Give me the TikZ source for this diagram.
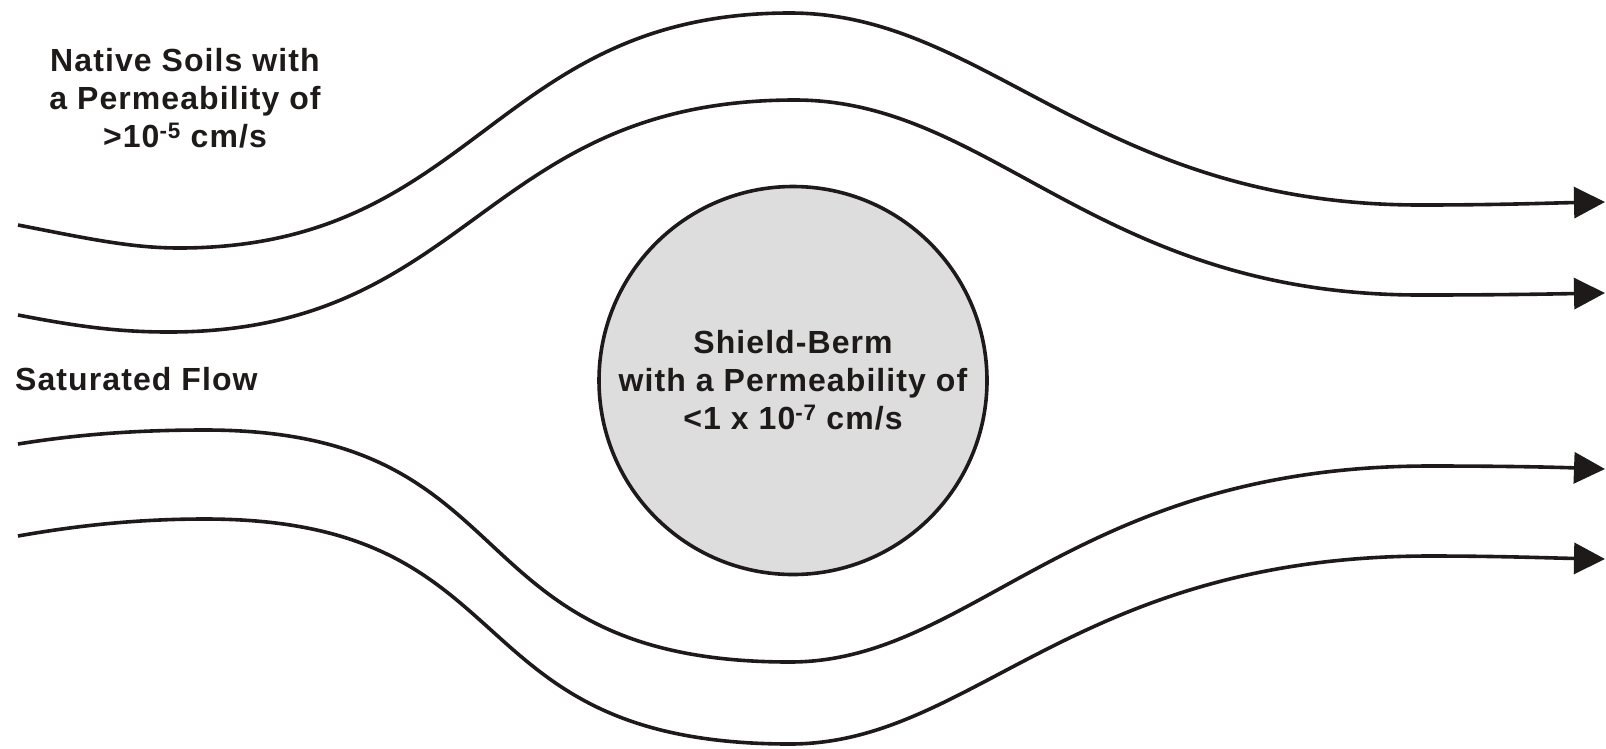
\documentclass[tikz,border=0pt]{standalone}
\usepackage{fontspec}
\setmainfont{Liberation Sans}[LetterSpace=3.4]
\usetikzlibrary{arrows.meta}
\definecolor{ink}{RGB}{30,26,26}
\definecolor{bermgray}{RGB}{221,221,221}
\tikzset{
  >={Triangle[length=31pt,width=31pt]},
  streamline/.style={->,line width=3.6pt,draw=ink},
  tag/.style={font=\fontsize{32}{38}\selectfont\bfseries,text=ink,align=center,inner sep=0pt},
  shield/.style={circle,draw=ink,fill=bermgray,line width=3.6pt,minimum size=388pt,
    inner sep=0pt,tag},
}
\begin{document}
\begin{tikzpicture}[x=1pt,y=-1pt]
  \useasboundingbox (0,0) rectangle (1606,748);
  \node[shield] (berm) at (793,380.5) {Shield-Berm\\with a Permeability of\\<1 x 10\textsuperscript{-7} cm/s};
  \node[tag] (soils) at (185,98) {Native Soils with\\a Permeability of\\>10\textsuperscript{-5} cm/s};
  \node[tag,anchor=base west] (flowtag) at (15,390) {Saturated Flow};
  % flow lines above the berm
  \draw[streamline] (18,225) .. controls (85,238) and (130,248) .. (179,248)
    .. controls (476,248) and (493,13) .. (790,13)
    .. controls (987,13) and (1097,205) .. (1420,205)
    .. controls (1500,205) and (1550,203) .. (1605,202);
  \draw[streamline] (18,315) .. controls (80,327) and (120,332) .. (169,332)
    .. controls (471,332) and (483,100) .. (795,100)
    .. controls (992,100) and (1097,295) .. (1420,295)
    .. controls (1500,295) and (1550,294) .. (1605,293);
  % flow lines below the berm
  \draw[streamline] (18,444) .. controls (80,434) and (140,430) .. (205,430)
    .. controls (534,430) and (448,662) .. (790,662)
    .. controls (973,662) and (1074,466) .. (1430,466)
    .. controls (1500,466) and (1550,467) .. (1605,469);
  \draw[streamline] (18,536) .. controls (80,525) and (140,519) .. (205,519)
    .. controls (534,519) and (448,744) .. (790,744)
    .. controls (973,744) and (1074,556) .. (1430,556)
    .. controls (1500,556) and (1550,558) .. (1605,559);
\end{tikzpicture}
\end{document}
